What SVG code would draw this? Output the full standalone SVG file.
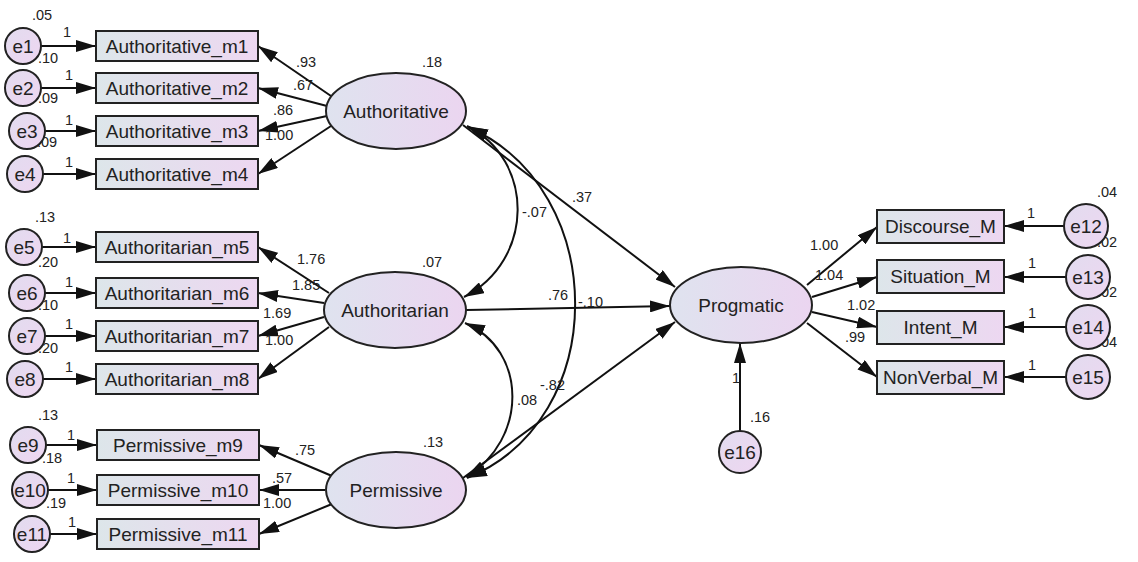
<svg xmlns="http://www.w3.org/2000/svg" width="1138" height="562" viewBox="0 0 1138 562">
<defs>
<linearGradient id="gBox" x1="0" y1="0" x2="1" y2="0"><stop offset="0" stop-color="#dde6ea"/><stop offset="1" stop-color="#edd7f1"/></linearGradient>
<linearGradient id="gEll" x1="0" y1="0" x2="1" y2="0"><stop offset="0" stop-color="#dfe3ef"/><stop offset="1" stop-color="#ebd5f0"/></linearGradient>
<linearGradient id="gCir" x1="0" y1="0" x2="1" y2="1"><stop offset="0" stop-color="#e2dcef"/><stop offset="1" stop-color="#eed6f1"/></linearGradient>
<marker id="ah" viewBox="0 0 20 12" refX="20" refY="6" markerWidth="20" markerHeight="12" markerUnits="userSpaceOnUse" orient="auto-start-reverse"><path d="M0,0 L20,6 L0,12 z" fill="#111"/></marker>
<style>
.box{fill:url(#gBox);stroke:#222;stroke-width:2}
.ell{fill:url(#gEll);stroke:#222;stroke-width:2}
.cir{fill:url(#gCir);stroke:#222;stroke-width:2}
.lbl{font-family:"Liberation Sans",Arial,sans-serif;font-size:19px;fill:#222;text-anchor:middle;dominant-baseline:central}
.num{font-family:"Liberation Sans",Arial,sans-serif;font-size:14.5px;fill:#222}
.c line,.c path{stroke:#111;stroke-width:2;fill:none}
.a{marker-end:url(#ah)}
.b{marker-start:url(#ah);marker-end:url(#ah)}
</style>
</defs>
<rect width="1138" height="562" fill="#fff"/>

<g class="c" id="connectors">
<line class="a" x1="41" y1="46" x2="96" y2="46"/>
<line class="a" x1="41" y1="88" x2="96" y2="88"/>
<line class="a" x1="45" y1="131" x2="96" y2="131"/>
<line class="a" x1="43" y1="174" x2="96" y2="174"/>
<line class="a" x1="42" y1="247" x2="96" y2="247"/>
<line class="a" x1="45" y1="293" x2="96" y2="293"/>
<line class="a" x1="45" y1="336" x2="96" y2="336"/>
<line class="a" x1="43" y1="379" x2="96" y2="379"/>
<line class="a" x1="46" y1="445" x2="97" y2="445"/>
<line class="a" x1="48" y1="490" x2="97" y2="490"/>
<line class="a" x1="50" y1="534" x2="97" y2="534"/>
<line class="a" x1="331" y1="96" x2="258" y2="46"/>
<line class="a" x1="327" y1="106" x2="258" y2="88"/>
<line class="a" x1="327" y1="116" x2="258" y2="131"/>
<line class="a" x1="331" y1="126" x2="258" y2="174"/>
<line class="a" x1="329" y1="293" x2="258" y2="247"/>
<line class="a" x1="324" y1="303" x2="258" y2="293"/>
<line class="a" x1="324" y1="317" x2="258" y2="336"/>
<line class="a" x1="329" y1="327" x2="258" y2="379"/>
<line class="a" x1="332" y1="476" x2="259" y2="445"/>
<line class="a" x1="325" y1="490" x2="259" y2="490"/>
<line class="a" x1="332" y1="504" x2="259" y2="534"/>
<line class="a" x1="463" y1="125" x2="675" y2="287"/>
<line class="a" x1="466" y1="310" x2="670" y2="306"/>
<line class="a" x1="463" y1="478" x2="675" y2="322"/>
<path class="b" d="M467,126 C535,160 535,260 464,297"/>
<path class="b" d="M465,323 C528,350 528,440 466,477"/>
<path class="b" d="M468,127 C611,190 611,420 467,478"/>
<line class="a" x1="807" y1="285" x2="877" y2="227"/>
<line class="a" x1="812" y1="297" x2="877" y2="277"/>
<line class="a" x1="812" y1="312" x2="877" y2="327"/>
<line class="a" x1="807" y1="323" x2="877" y2="377"/>
<line class="a" x1="1064" y1="226" x2="1004" y2="226"/>
<line class="a" x1="1066" y1="277" x2="1004" y2="277"/>
<line class="a" x1="1066" y1="327" x2="1004" y2="327"/>
<line class="a" x1="1066" y1="377" x2="1004" y2="377"/>
<line class="a" x1="740" y1="431" x2="740" y2="343"/>
</g>

<g id="labels">
<text class="num" x="32" y="20">.05</text>
<text class="num" x="63" y="37">1</text>
<text class="num" x="38" y="63">.10</text>
<text class="num" x="65" y="80">1</text>
<text class="num" x="38" y="103">.09</text>
<text class="num" x="65" y="125">1</text>
<text class="num" x="37" y="147">.09</text>
<text class="num" x="65" y="167">1</text>
<text class="num" x="35" y="222">.13</text>
<text class="num" x="63" y="243">1</text>
<text class="num" x="38" y="267">.20</text>
<text class="num" x="65" y="287">1</text>
<text class="num" x="38" y="310">.10</text>
<text class="num" x="65" y="329">1</text>
<text class="num" x="38" y="353">.20</text>
<text class="num" x="65" y="372">1</text>
<text class="num" x="38" y="420">.13</text>
<text class="num" x="67" y="440">1</text>
<text class="num" x="42" y="463">.18</text>
<text class="num" x="67" y="483">1</text>
<text class="num" x="46" y="508">.19</text>
<text class="num" x="68" y="527">1</text>
<text class="num" x="296" y="67">.93</text>
<text class="num" x="293" y="90">.67</text>
<text class="num" x="273" y="115">.86</text>
<text class="num" x="265" y="140">1.00</text>
<text class="num" x="297" y="264">1.76</text>
<text class="num" x="292" y="290">1.85</text>
<text class="num" x="263" y="318">1.69</text>
<text class="num" x="265" y="345">1.00</text>
<text class="num" x="295" y="455">.75</text>
<text class="num" x="272" y="483">.57</text>
<text class="num" x="263" y="508">1.00</text>
<text class="num" x="422" y="67">.18</text>
<text class="num" x="422" y="267">.07</text>
<text class="num" x="423" y="447">.13</text>
<text class="num" x="572" y="202">.37</text>
<text class="num" x="548" y="300">.76</text>
<text class="num" x="578" y="307">-.10</text>
<text class="num" x="522" y="217">-.07</text>
<text class="num" x="517" y="405">.08</text>
<text class="num" x="540" y="390">-.82</text>
<text class="num" x="810" y="250">1.00</text>
<text class="num" x="815" y="280">1.04</text>
<text class="num" x="847" y="310">1.02</text>
<text class="num" x="845" y="342">.99</text>
<text class="num" x="1027" y="218">1</text>
<text class="num" x="1028" y="268">1</text>
<text class="num" x="1028" y="318">1</text>
<text class="num" x="1028" y="370">1</text>
<text class="num" x="1097" y="197">.04</text>
<text class="num" x="1097" y="247">.02</text>
<text class="num" x="1097" y="297">.02</text>
<text class="num" x="1097" y="347">.04</text>
<text class="num" x="732" y="383">1</text>
<text class="num" x="750" y="422">.16</text>
</g>

<g id="e1"><circle class="cir" cx="23" cy="46" r="18"/><text class="lbl" x="23" y="46">e1</text></g>
<g id="e2"><circle class="cir" cx="23" cy="88" r="18"/><text class="lbl" x="23" y="88">e2</text></g>
<g id="e3"><circle class="cir" cx="27" cy="131" r="18"/><text class="lbl" x="27" y="131">e3</text></g>
<g id="e4"><circle class="cir" cx="25" cy="174" r="18"/><text class="lbl" x="25" y="174">e4</text></g>
<g id="e5"><circle class="cir" cx="24" cy="247" r="18"/><text class="lbl" x="24" y="247">e5</text></g>
<g id="e6"><circle class="cir" cx="27" cy="293" r="18"/><text class="lbl" x="27" y="293">e6</text></g>
<g id="e7"><circle class="cir" cx="27" cy="336" r="18"/><text class="lbl" x="27" y="336">e7</text></g>
<g id="e8"><circle class="cir" cx="25" cy="379" r="18"/><text class="lbl" x="25" y="379">e8</text></g>
<g id="e9"><circle class="cir" cx="28" cy="445" r="18"/><text class="lbl" x="28" y="445">e9</text></g>
<g id="e10"><circle class="cir" cx="30" cy="490" r="18"/><text class="lbl" x="30" y="490">e10</text></g>
<g id="e11"><circle class="cir" cx="32" cy="534" r="18"/><text class="lbl" x="32" y="534">e11</text></g>

<g id="m1"><rect class="box" x="96" y="31" width="162" height="30"/><text class="lbl" x="177" y="46">Authoritative_m1</text></g>
<g id="m2"><rect class="box" x="96" y="73" width="162" height="30"/><text class="lbl" x="177" y="88">Authoritative_m2</text></g>
<g id="m3"><rect class="box" x="96" y="116" width="162" height="30"/><text class="lbl" x="177" y="131">Authoritative_m3</text></g>
<g id="m4"><rect class="box" x="96" y="159" width="162" height="30"/><text class="lbl" x="177" y="174">Authoritative_m4</text></g>
<g id="m5"><rect class="box" x="96" y="232" width="162" height="30"/><text class="lbl" x="177" y="247">Authoritarian_m5</text></g>
<g id="m6"><rect class="box" x="96" y="278" width="162" height="30"/><text class="lbl" x="177" y="293">Authoritarian_m6</text></g>
<g id="m7"><rect class="box" x="96" y="321" width="162" height="30"/><text class="lbl" x="177" y="336">Authoritarian_m7</text></g>
<g id="m8"><rect class="box" x="96" y="364" width="162" height="30"/><text class="lbl" x="177" y="379">Authoritarian_m8</text></g>
<g id="m9"><rect class="box" x="97" y="430" width="162" height="30"/><text class="lbl" x="178" y="445">Permissive_m9</text></g>
<g id="m10"><rect class="box" x="97" y="475" width="162" height="30"/><text class="lbl" x="178" y="490">Permissive_m10</text></g>
<g id="m11"><rect class="box" x="97" y="519" width="162" height="30"/><text class="lbl" x="178" y="534">Permissive_m11</text></g>

<g id="Authoritative"><ellipse class="ell" cx="396" cy="111" rx="70" ry="38"/><text class="lbl" x="396" y="111">Authoritative</text></g>
<g id="Authoritarian"><ellipse class="ell" cx="395" cy="310" rx="71" ry="38"/><text class="lbl" x="395" y="310">Authoritarian</text></g>
<g id="Permissive"><ellipse class="ell" cx="396" cy="490" rx="70" ry="38"/><text class="lbl" x="396" y="490">Permissive</text></g>
<g id="Progmatic"><ellipse class="ell" cx="741" cy="305" rx="71" ry="38"/><text class="lbl" x="741" y="305">Progmatic</text></g>

<g id="Discourse_M"><rect class="box" x="877" y="210" width="127" height="33"/><text class="lbl" x="940.5" y="226.5">Discourse_M</text></g>
<g id="Situation_M"><rect class="box" x="877" y="260" width="127" height="33"/><text class="lbl" x="940.5" y="276.5">Situation_M</text></g>
<g id="Intent_M"><rect class="box" x="877" y="311" width="127" height="33"/><text class="lbl" x="940.5" y="327.5">Intent_M</text></g>
<g id="NonVerbal_M"><rect class="box" x="877" y="361" width="127" height="33"/><text class="lbl" x="940.5" y="377.5">NonVerbal_M</text></g>

<g id="e12"><circle class="cir" cx="1086" cy="226" r="22"/><text class="lbl" x="1086" y="226">e12</text></g>
<g id="e13"><circle class="cir" cx="1088" cy="277" r="22"/><text class="lbl" x="1088" y="277">e13</text></g>
<g id="e14"><circle class="cir" cx="1088" cy="327" r="22"/><text class="lbl" x="1088" y="327">e14</text></g>
<g id="e15"><circle class="cir" cx="1088" cy="377" r="22"/><text class="lbl" x="1088" y="377">e15</text></g>
<g id="e16"><circle class="cir" cx="740" cy="452" r="21"/><text class="lbl" x="740" y="452">e16</text></g>
</svg>
